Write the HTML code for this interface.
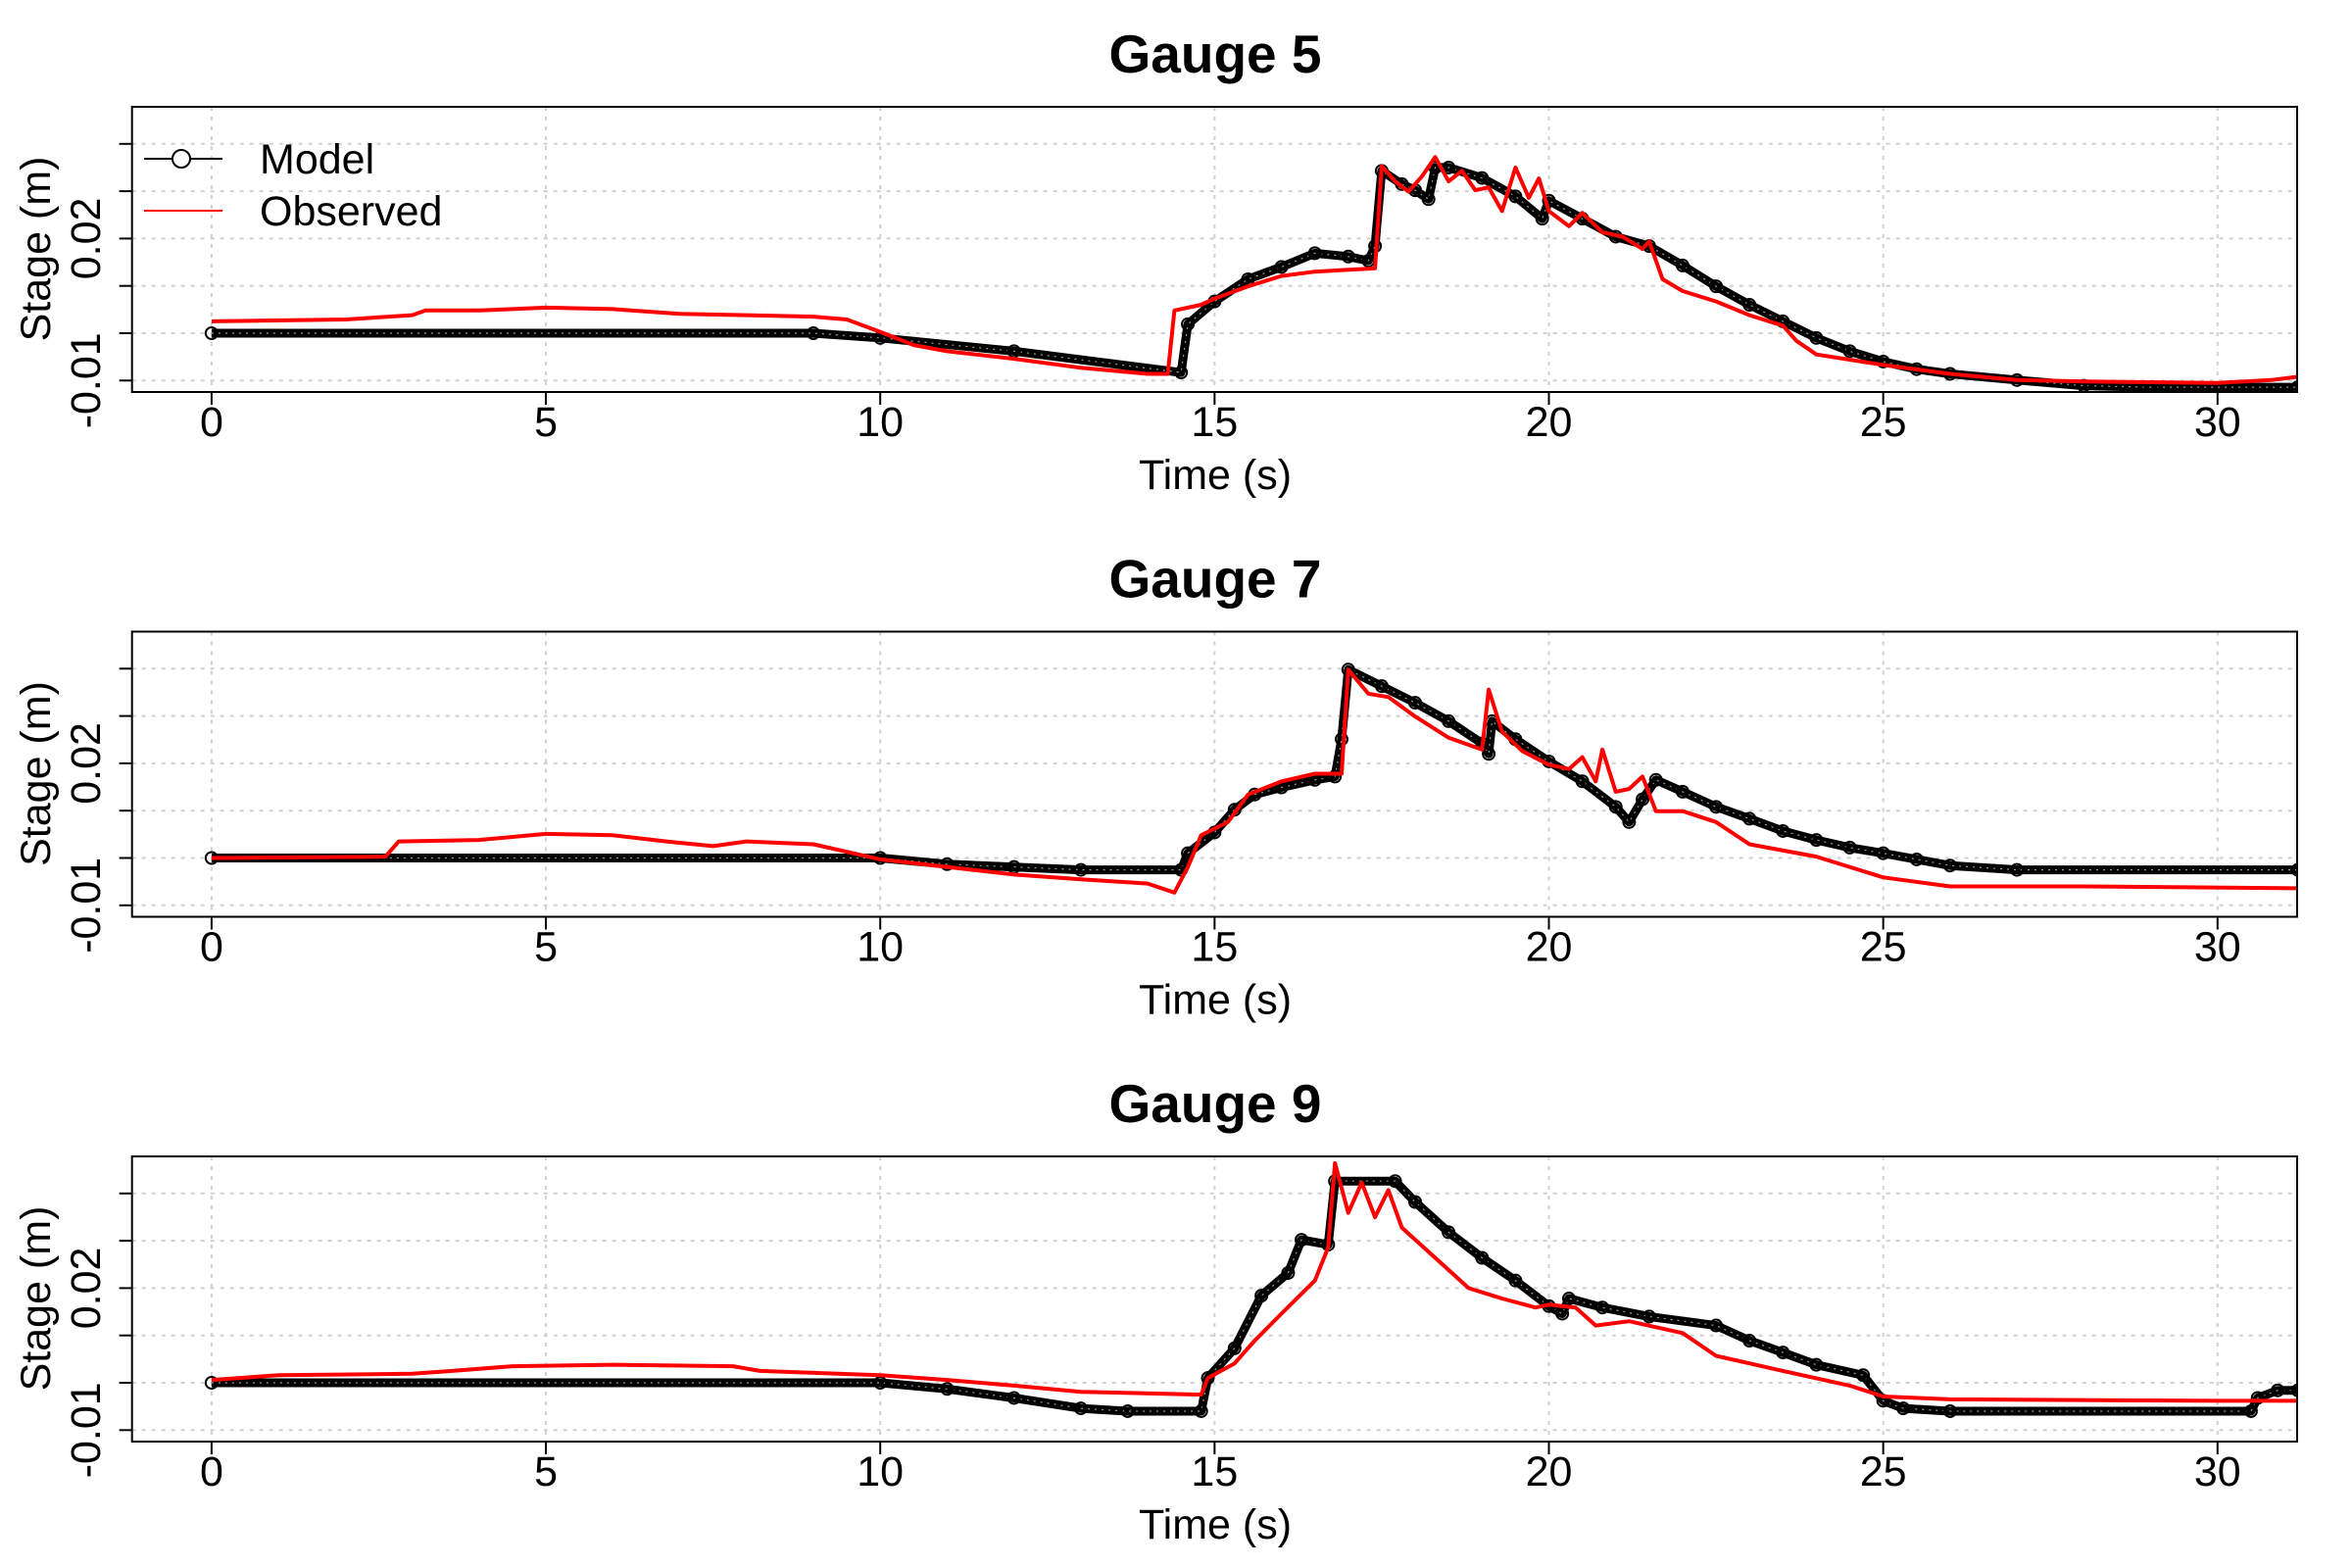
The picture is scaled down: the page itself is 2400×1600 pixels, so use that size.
<!DOCTYPE html>
<html><head><meta charset="utf-8"><style>
html,body{margin:0;padding:0;background:#fff;}
svg{display:block;font-family:"Liberation Sans",Arial,sans-serif;}
</style></head><body>
<svg id="chart" width="2400" height="1600" viewBox="0 0 2400 1600"></svg>
<script>
const xTicks=[0,5,10,15,20,25,30];
const yTicks=[-0.01,0,0.01,0.02,0.03,0.04];
const yLabels=[[-0.01,"-0.01"],[0.02,"0.02"]];
const gaugeNames=["Gauge 5","Gauge 7","Gauge 9"];

const g5ModelT=[0,9,10,12,14.5,14.6,15,15.5,16,16.5,17,17.3,17.4,17.5,17.8,18,18.2,18.3,18.5,19,19.5,19.9,20,20.5,21,21.5,22,22.5,23,23.5,24,24.5,25,25.5,26,27,28,29,31.2];
const g5ModelV=[0,0,-0.0010,-0.0038,-0.0083,0.0019,0.0067,0.0114,0.0140,0.0169,0.0162,0.0153,0.0184,0.0343,0.0315,0.0302,0.0283,0.0350,0.0350,0.0328,0.0289,0.0242,0.0280,0.0242,0.0204,0.0184,0.0143,0.0099,0.0060,0.0025,-0.0010,-0.0038,-0.0060,-0.0076,-0.0086,-0.0099,-0.0111,-0.0114,-0.0114];
const g5ObsT=[0,2,3,3.2,4,5,6,7,8,9,9.5,10,10.5,11,12,13,14,14.3,14.4,14.8,15,15.5,16,16.5,17,17.4,17.5,17.7,17.9,18.1,18.3,18.5,18.7,18.9,19.1,19.3,19.5,19.7,19.85,20,20.3,20.5,20.8,21.1,21.4,21.5,21.7,22,22.5,23,23.5,23.7,24,25,26,27,28,30,30.8,31.2];
const g5ObsV=[0.0025,0.0029,0.0038,0.0048,0.0048,0.0054,0.0051,0.0041,0.0038,0.0035,0.0029,0.0003,-0.0025,-0.0038,-0.0054,-0.0073,-0.0086,-0.0086,0.0048,0.0060,0.0073,0.0099,0.0121,0.0130,0.0134,0.0137,0.0353,0.0321,0.0299,0.0331,0.0372,0.0321,0.0343,0.0302,0.0308,0.0258,0.0350,0.0286,0.0327,0.0258,0.0226,0.0254,0.0213,0.0204,0.0178,0.0194,0.0114,0.0089,0.0067,0.0038,0.0016,-0.0016,-0.0045,-0.0067,-0.0086,-0.0099,-0.0102,-0.0105,-0.0099,-0.0092];

const g7ModelT=[0,10,11,12,13,14.5,14.6,15,15.3,15.6,16,16.5,16.8,16.9,17,17.5,18,18.5,19,19.1,19.15,19.5,20,20.5,21,21.2,21.4,21.6,22,22.5,23,23.5,24,24.5,25,25.5,26,27,31.2];
const g7ModelV=[0,0,-0.0013,-0.0019,-0.0025,-0.0025,0.0010,0.0054,0.0102,0.0134,0.0149,0.0165,0.0172,0.0251,0.0398,0.0363,0.0328,0.0289,0.0242,0.0220,0.0289,0.0251,0.0204,0.0162,0.0108,0.0076,0.0124,0.0165,0.0140,0.0108,0.0083,0.0057,0.0038,0.0022,0.0010,-0.0003,-0.0016,-0.0025,-0.0025];
const g7ObsT=[0,2.6,2.8,4,5,6,6.8,7.5,8,9,9.5,10,12,13,14,14.4,14.6,14.8,15.2,15.5,16,16.5,16.9,17,17.3,17.6,18,18.5,19,19.1,19.3,19.6,20,20.3,20.5,20.7,20.8,21,21.2,21.4,21.6,22,22.5,23,24,25,26,28,31.2];
const g7ObsV=[0,0.0003,0.0035,0.0038,0.0051,0.0048,0.0035,0.0025,0.0035,0.0029,0.0013,-0.0003,-0.0035,-0.0045,-0.0054,-0.0073,-0.0019,0.0048,0.0076,0.0134,0.0162,0.0178,0.0178,0.0398,0.0347,0.0340,0.0299,0.0254,0.0229,0.0356,0.0267,0.0226,0.0197,0.0188,0.0213,0.0162,0.0229,0.0140,0.0146,0.0172,0.0099,0.0099,0.0076,0.0029,0.0003,-0.0041,-0.0060,-0.0060,-0.0064];

const g9ModelT=[0,10,11,12,13,13.7,14.8,14.9,15.3,15.7,16.1,16.3,16.7,16.8,17.7,18,18.5,19,19.5,20,20.2,20.3,20.8,21.5,22.5,23,23.5,24,24.7,25,25.3,26,30.5,30.6,30.9,31.2];
const g9ModelV=[0,0,-0.0013,-0.0032,-0.0054,-0.0060,-0.0060,0.0010,0.0073,0.0184,0.0232,0.0302,0.0292,0.0426,0.0426,0.0382,0.0318,0.0264,0.0216,0.0162,0.0146,0.0178,0.0159,0.0140,0.0121,0.0089,0.0064,0.0038,0.0016,-0.0038,-0.0054,-0.0060,-0.0060,-0.0032,-0.0016,-0.0016];
const g9ObsT=[0,1,3,3.6,4.5,6,7.8,8.2,10,11,12,13,14.8,14.9,15.3,15.6,16,16.5,16.7,16.8,17,17.2,17.4,17.6,17.8,18.3,18.8,19.3,19.8,20,20.4,20.7,21.2,22,22.5,23.5,24.5,25,26,30,31.2];
const g9ObsV=[0.0006,0.0016,0.0019,0.0025,0.0035,0.0038,0.0035,0.0025,0.0016,0.0006,-0.0006,-0.0019,-0.0025,0.0010,0.0041,0.0089,0.0146,0.0216,0.0286,0.0464,0.0359,0.0423,0.0350,0.0407,0.0328,0.0264,0.0200,0.0178,0.0159,0.0165,0.0159,0.0121,0.0130,0.0105,0.0057,0.0025,-0.0006,-0.0029,-0.0035,-0.0038,-0.0038];

const panels=[
 {mt:g5ModelT,mv:g5ModelV,ot:g5ObsT,ov:g5ObsV},
 {mt:g7ModelT,mv:g7ModelV,ot:g7ObsT,ov:g7ObsV},
 {mt:g9ModelT,mv:g9ModelV,ot:g9ObsT,ov:g9ObsV}
];

const NS="http://www.w3.org/2000/svg";
const svg=document.getElementById('chart');
const L=134.7,R=2344,PANEL_DY=535.5,CX=1240;
function xS(t){return 215.9+t*68.23;}
function yS(v,p){return 340+p*PANEL_DY - v*4830;}
function mk(tag,attrs,parent){const e=document.createElementNS(NS,tag);for(const k in attrs)e.setAttribute(k,attrs[k]);(parent||svg).appendChild(e);return e;}

const defs=mk('defs',{});
panels.forEach((pd,p)=>{
  const dy=p*PANEL_DY, top=109+dy, bot=400+dy;
  const cp=mk('clipPath',{id:'clip'+p},defs);
  mk('rect',{x:L,y:top,width:R-L,height:bot-top},cp);
  const g=mk('g',{});
  
  
  xTicks.forEach(t=>{
    const l=mk('line',{x1:xS(t),x2:xS(t),y1:top,y2:bot,stroke:'#d0d0d0','stroke-width':2,'stroke-dasharray':'4 6'},g);
    
    
  });
  yTicks.forEach(v=>{
    const l=mk('line',{x1:L,x2:R,y1:yS(v,p),y2:yS(v,p),stroke:'#d0d0d0','stroke-width':2,'stroke-dasharray':'4 6'},g);
    
    
  });
  const sg=mk('g',{'clip-path':'url(#clip'+p+')'},g);
  const mPts=pd.mt.map((t,i)=>xS(t).toFixed(1)+','+yS(pd.mv[i],p).toFixed(1)).join(' ');
  const band=mk('polyline',{points:mPts,fill:'none',stroke:'#000','stroke-width':9,'stroke-linejoin':'round'},sg);
  
  
  mk('polyline',{points:mPts,fill:'none',stroke:'#fff','stroke-width':1.2,'stroke-dasharray':'2 5',opacity:0.6},sg);
  pd.mt.forEach((t,i)=>{
    const c=mk('circle',{cx:xS(t),cy:yS(pd.mv[i],p),r:6,fill:'none',stroke:'#000','stroke-width':2},sg);
    
    
  });
  const oPts=pd.ot.map((t,i)=>xS(t).toFixed(1)+','+yS(pd.ov[i],p).toFixed(1)).join(' ');
  const obs=mk('polyline',{points:oPts,fill:'none',stroke:'#ff0000','stroke-width':4,'stroke-linejoin':'round'},sg);
  
  
  const fr=mk('rect',{x:L,y:top,width:R-L,height:bot-top,fill:'none',stroke:'#000','stroke-width':2},g);
  
  
  xTicks.forEach(t=>{
    mk('line',{x1:xS(t),x2:xS(t),y1:bot,y2:bot+13,stroke:'#000','stroke-width':2},g);
    const tx=mk('text',{x:xS(t),y:445+dy,'text-anchor':'middle','font-size':43},g);
    tx.textContent=String(t);
    
    
  });
  yTicks.forEach(v=>{
    mk('line',{x1:L,x2:L-13,y1:yS(v,p),y2:yS(v,p),stroke:'#000','stroke-width':2},g);
  });
  yLabels.forEach(([v,s])=>{
    const y=yS(v,p);
    const tx=mk('text',{x:0,y:0,transform:'translate(102,'+y+') rotate(-90)','text-anchor':'middle','font-size':43},g);
    tx.textContent=s;
    
    
  });
  const xt=mk('text',{x:CX,y:499+dy,'text-anchor':'middle','font-size':43},g);
  xt.textContent='Time (s)';
  
  
  const yt=mk('text',{x:0,y:0,transform:'translate(51,'+(254+dy)+') rotate(-90)','text-anchor':'middle','font-size':43},g);
  yt.textContent='Stage (m)';
  
  
  const ti=mk('text',{x:CX,y:74+dy,'text-anchor':'middle','font-size':55,'font-weight':'bold'},g);
  ti.textContent=gaugeNames[p];
  
  
});

const lg=mk('g',{});


mk('line',{x1:147,x2:227,y1:162,y2:162,stroke:'#000','stroke-width':2},lg);
mk('circle',{cx:185,cy:162,r:9,fill:'#fff',stroke:'#000','stroke-width':2},lg);
const lt1=mk('text',{x:265,y:177,'font-size':43},lg);
lt1.textContent='Model';


mk('line',{x1:147,x2:227,y1:215,y2:215,stroke:'#ff0000','stroke-width':2},lg);
const lt2=mk('text',{x:265,y:230,'font-size':43},lg);
lt2.textContent='Observed';


</script>
</body></html>
